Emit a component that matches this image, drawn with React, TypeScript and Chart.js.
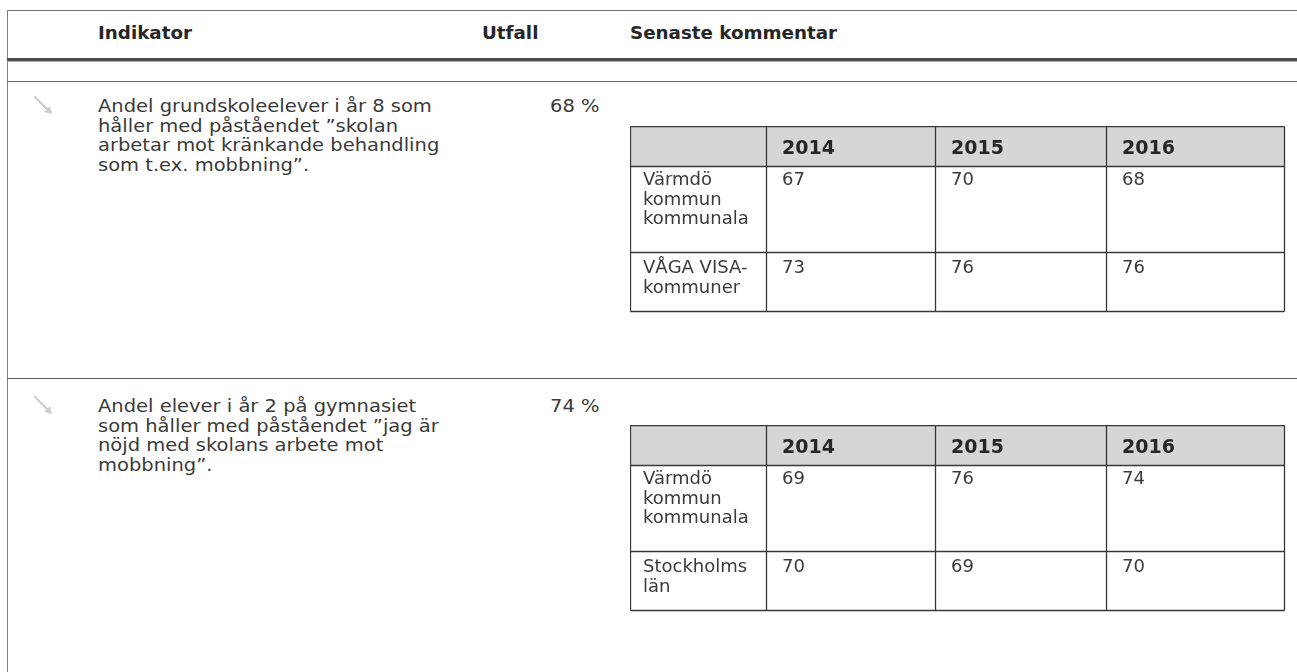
import React, { useEffect, useRef } from "react";
import { Chart, registerables } from "chart.js";

Chart.register(...registerables);

// ---------- data ----------
const headerColumns = ["Indikator", "Utfall", "Senaste kommentar"];
const indicatorTexts = [
  "Andel grundskoleelever i år 8 som\nhåller med påståendet ”skolan\narbetar mot kränkande behandling\nsom t.ex. mobbning”.",
  "Andel elever i år 2 på gymnasiet\nsom håller med påståendet ”jag är\nnöjd med skolans arbete mot\nmobbning”.",
];
const outcomes = ["68 %", "74 %"];
const years = ["2014", "2015", "2016"];

const table1RowLabels = ["Värmdö\nkommun\nkommunala", "VÅGA VISA-\nkommuner"];
const table1Varmdo = [67, 70, 68];
const table1VagaVisa = [73, 76, 76];

const table2RowLabels = ["Värmdö\nkommun\nkommunala", "Stockholms\nlän"];
const table2Varmdo = [69, 76, 74];
const table2Stockholm = [70, 69, 70];

// ---------- layout ----------
const FONT = "'DejaVu Sans', Verdana, sans-serif";
const TABLE_LEFT = 630;
const TABLE_W = 667;
const COL_EDGES = [0, 136, 305, 476, 654];
const HEADER_H = 40;
const ROW_HEIGHTS = [86, 59];
const ROW_BASELINES = [19, 21];
const LINE_H = 19.5;
const TEXT_PAD_X = 15;
const HEADER_BASELINE = 28;

type TableProps = {
  top: number;
  rowLabels: string[];
  series: number[][];
};

function TableChart({ top, rowLabels, series }: TableProps) {
  const ref = useRef<HTMLCanvasElement | null>(null);
  const rowHeights = [HEADER_H, ...ROW_HEIGHTS];
  const bounds: number[] = [0];
  rowHeights.forEach((h) => bounds.push(bounds[bounds.length - 1] + h));
  const H = bounds[bounds.length - 1] + 2;

  useEffect(() => {
    if (!ref.current) return;
    const tablePlugin = {
      id: "tableGrid",
      beforeDatasetsDraw(chart: any) {
        const ctx = chart.ctx as CanvasRenderingContext2D;
        const xs = chart.scales.x;
        const ys = chart.scales.y;
        const cols = COL_EDGES.map((c) => Math.round(xs.getPixelForValue(c)) + 0.5);
        const rows = bounds.map((b) => Math.round(ys.getPixelForValue(b)) + 0.5);
        const last = cols.length - 1;
        ctx.save();
        ctx.fillStyle = "#d6d6d6";
        ctx.fillRect(cols[0], rows[0], cols[last] - cols[0], rows[1] - rows[0]);
        ctx.strokeStyle = "#383838";
        ctx.lineWidth = 1.3;
        ctx.beginPath();
        rows.forEach((y) => {
          ctx.moveTo(cols[0], y);
          ctx.lineTo(cols[last], y);
        });
        cols.forEach((x) => {
          ctx.moveTo(x, rows[0]);
          ctx.lineTo(x, rows[rows.length - 1]);
        });
        ctx.stroke();
        ctx.fillStyle = "#262626";
        ctx.font = `bold 19px ${FONT}`;
        ctx.textBaseline = "alphabetic";
        years.forEach((yr, i) => {
          ctx.fillText(yr, xs.getPixelForValue(COL_EDGES[i + 1]) + TEXT_PAD_X + 1, ys.getPixelForValue(0) + HEADER_BASELINE);
        });
        ctx.fillStyle = "#3a3a3a";
        ctx.font = `18px ${FONT}`;
        rowLabels.forEach((label, r) => {
          label.split("\n").forEach((line, li) => {
            ctx.fillText(
              line,
              xs.getPixelForValue(COL_EDGES[0]) + TEXT_PAD_X - 2,
              ys.getPixelForValue(bounds[r + 1]) + ROW_BASELINES[r] + li * LINE_H
            );
          });
        });
        ctx.restore();
      },
      afterDatasetsDraw(chart: any) {
        const ctx = chart.ctx as CanvasRenderingContext2D;
        ctx.save();
        ctx.fillStyle = "#3a3a3a";
        ctx.font = `18px ${FONT}`;
        ctx.textBaseline = "alphabetic";
        chart.data.datasets.forEach((ds: any, d: number) => {
          const meta = chart.getDatasetMeta(d);
          meta.data.forEach((el: any, i: number) => {
            ctx.fillText(String(series[d][i]), el.x + TEXT_PAD_X + 1, el.y + ROW_BASELINES[d]);
          });
        });
        ctx.restore();
      },
    };

    const chart = new Chart(ref.current, {
      type: "scatter",
      data: {
        datasets: series.map((vals, r) => ({
          label: rowLabels[r].replace(/\n/g, " "),
          data: vals.map((_, i) => ({ x: COL_EDGES[i + 1], y: bounds[r + 1] })),
          pointRadius: 0,
          pointHoverRadius: 0,
        })),
      },
      options: {
        responsive: false,
        animation: false,
        events: [],
        layout: { padding: 0, autoPadding: false },
        plugins: { legend: { display: false }, tooltip: { enabled: false } },
        scales: {
          x: { type: "linear", min: 0, max: TABLE_W, display: false },
          y: { type: "linear", min: 0, max: H, reverse: true, display: false },
        },
      },
      plugins: [tablePlugin],
    } as any);
    return () => chart.destroy();
  }, []);

  return (
    <canvas
      ref={ref}
      width={TABLE_W}
      height={H}
      style={{ position: "absolute", left: TABLE_LEFT, top, width: TABLE_W, height: H }}
    />
  );
}

function Arrow({ top }: { top: number }) {
  return (
    <svg style={{ position: "absolute", left: 32, top }} width={28} height={26}>
      <line x1={3} y1={2} x2={17} y2={16} stroke="#cdcdcd" strokeWidth={2.2} strokeLinecap="round" />
      <polygon points="20,19 12,17 18,11" fill="#cdcdcd" />
    </svg>
  );
}

const hLine = (top: number, height: number, color: string) => (
  <div style={{ position: "absolute", left: 7, top, width: 1297 - 7, height, background: color }} />
);

export default function App() {
  const textStyle: React.CSSProperties = {
    position: "absolute",
    fontFamily: FONT,
    fontSize: 18,
    lineHeight: "19.5px",
    color: "#3a3a3a",
    whiteSpace: "pre",
    margin: 0,
    transform: "scaleX(1.083)",
    transformOrigin: "0 0",
  };
  const headStyle: React.CSSProperties = {
    position: "absolute",
    top: 22,
    fontFamily: FONT,
    fontSize: 18.3,
    fontWeight: "bold",
    lineHeight: "22px",
    color: "#262626",
    whiteSpace: "pre",
  };
  const sectionTops = [95, 395];
  const tableTops = [126, 425];
  return (
    <div
      style={{
        position: "absolute",
        left: 0,
        top: 0,
        width: 1297,
        height: 672,
        overflow: "hidden",
        background: "#ffffff",
      }}
    >
      {hLine(10, 1, "#707070")}
      <div style={{ position: "absolute", left: 7, top: 10, width: 1, height: 662, background: "#808080" }} />
      <div style={{ ...headStyle, left: 98 }}>{headerColumns[0]}</div>
      <div style={{ ...headStyle, left: 482 }}>{headerColumns[1]}</div>
      <div style={{ ...headStyle, left: 630 }}>{headerColumns[2]}</div>
      {hLine(58, 3, "#4d4d4d")}
      {hLine(61, 1, "#a8a8a8")}
      {hLine(81, 1, "#6a6a6a")}
      {hLine(378, 1, "#5a5a5a")}

      {indicatorTexts.map((t, i) => (
        <React.Fragment key={i}>
          <Arrow top={sectionTops[i]} />
          <div style={{ ...textStyle, left: 98, top: sectionTops[i] + 1 }}>{t}</div>
          <div style={{ ...textStyle, left: 550, top: sectionTops[i] + 1 }}>{outcomes[i]}</div>
        </React.Fragment>
      ))}

      <TableChart top={tableTops[0]} rowLabels={table1RowLabels} series={[table1Varmdo, table1VagaVisa]} />
      <TableChart top={tableTops[1]} rowLabels={table2RowLabels} series={[table2Varmdo, table2Stockholm]} />
    </div>
  );
}
